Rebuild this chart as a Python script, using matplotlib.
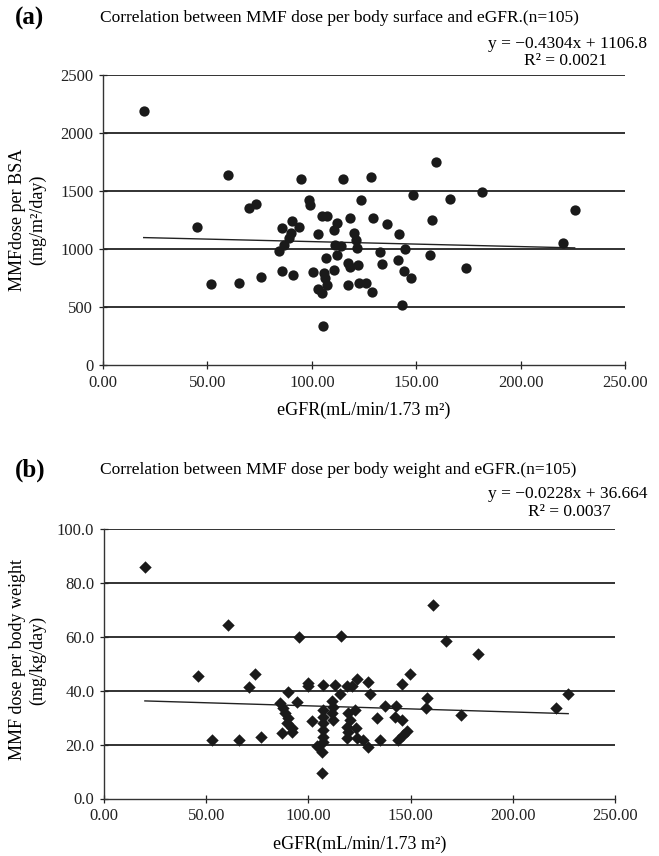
import matplotlib
matplotlib.use("Agg")
import matplotlib.pyplot as plt
import numpy as np

plt.rcParams['font.family'] = ['Liberation Serif', 'DejaVu Serif']

# Panel (a): eGFR vs MMF dose per BSA
egfr_a = [19.5, 45.2, 51.7, 59.8, 65.1, 70.0, 73.2, 75.9,
          84.3, 85.9, 85.9, 86.7, 89.0, 89.8, 90.3, 91.0, 93.8, 94.8,
          98.6, 98.9, 100.5, 103.0, 103.0, 104.9, 104.9, 105.2, 105.7, 106.5, 106.8, 107.3, 107.3,
          110.5, 110.5, 111.3, 112.0, 112.0, 114.1, 114.8, 117.1, 117.1, 118.1, 118.4, 120.0,
          121.1, 121.6, 122.0, 122.4, 123.7, 125.9, 128.2, 128.7, 129.2,
          132.7, 133.8, 136.2, 141.4, 141.8, 143.3, 144.6, 144.3, 147.5, 148.6,
          156.5, 157.8, 159.7, 166.3, 173.7, 181.4, 220.1, 225.9]
dose_bsa = [2190, 1192, 698, 1635, 704, 1351, 1385, 761,
            983, 1184, 810, 1034, 1092, 1135, 1241, 776, 1192, 1600,
            1422, 1379, 799, 1127, 653, 618, 1284, 339, 790, 747, 920, 1284, 690,
            1164, 819, 1034, 1221, 948, 1028, 1600, 877, 690, 1264, 847, 1135,
            1078, 1006, 862, 704, 1425, 704, 1617, 632, 1264,
            977, 871, 1213, 905, 1127, 520, 1000, 810, 747, 1462,
            948, 1250, 1746, 1435, 839, 1488, 1055, 1336]
slope_a, intercept_a, r2_a = -0.4304, 1106.8, 0.0021

# Panel (b): eGFR vs MMF dose per body weight
egfr_b = [20.0, 46.1, 52.6, 60.8, 66.1, 71.0, 73.9, 76.8,
          86.1, 87.7, 88.6, 90.1, 89.4, 91.8, 91.8, 87.0, 90.1, 94.2, 95.6,
          100.0, 100.0, 101.6, 104.1, 106.5, 106.5, 107.3, 107.3, 107.3, 107.3, 107.3, 107.3, 107.3,
          111.4, 112.2, 111.4, 112.2, 113.0, 115.5, 115.9, 118.7, 121.2,
          119.6, 120.4, 118.7, 119.6, 118.7, 122.8, 123.3, 123.7, 124.0, 126.5, 129.0, 129.3, 130.1,
          133.4, 135.0, 137.5, 142.8, 142.3, 145.6, 144.0, 146.4, 148.4, 145.6, 149.7,
          157.9, 157.4, 160.8, 167.1, 174.6, 182.8, 221.1, 227.1]
dose_bw = [85.9, 45.3, 21.7, 64.2, 21.7, 41.3, 46.3, 22.7,
           35.4, 33.5, 31.7, 29.8, 28.0, 26.1, 24.8, 24.2, 39.7, 35.8, 59.9,
           43.0, 41.6, 28.6, 19.5, 17.4, 9.4, 42.2, 32.9, 30.4, 28.0, 25.5, 23.0, 21.1,
           36.0, 34.1, 31.7, 29.2, 42.2, 38.8, 60.4, 41.8, 41.8,
           31.7, 29.2, 26.7, 24.8, 22.4, 32.9, 26.1, 22.4, 44.3, 21.7, 19.0, 43.4, 38.8,
           29.8, 21.7, 34.4, 34.4, 30.4, 29.2, 21.7, 23.6, 25.2, 42.6, 46.3,
           37.2, 33.5, 71.9, 58.6, 31.0, 53.7, 33.5, 38.8]
slope_b, intercept_b, r2_b = -0.0228, 36.664, 0.0037

x_ticks = [0, 50, 100, 150, 200, 250]
ya_ticks = [0, 500, 1000, 1500, 2000, 2500]
yb_ticks = [0, 20, 40, 60, 80, 100]

W, H = 659, 856
fig = plt.figure(figsize=(W / 100, H / 100), dpi=100)
ink = '#1a1a1a'
FS = 12.5


def style(ax, yticks, yfmt):
    ax.set_xlim(0, 250)
    ax.set_ylim(yticks[0], yticks[-1])
    ax.set_xticks(x_ticks)
    ax.set_xticklabels([f"{v:.2f}" for v in x_ticks])
    ax.set_yticks(yticks)
    ax.set_yticklabels([yfmt.format(v) for v in yticks])
    for s in ['top', 'right']:
        ax.spines[s].set_visible(False)
    for s in ['left', 'bottom']:
        ax.spines[s].set_color('#333333')
        ax.spines[s].set_linewidth(1.0)
    ax.tick_params(direction='inout', length=6, width=0.9, labelsize=12,
                   colors='#222222', pad=4)
    for v in yticks[1:]:
        ax.axhline(v, color='#222222', lw=1.3, zorder=1)


# Panel (a)
axa = fig.add_axes([103 / W, 1 - 365 / H, 522 / W, 290 / H])
style(axa, ya_ticks, "{:d}")
axa.scatter(egfr_a, dose_bsa, s=55, marker='o', color=ink, zorder=3, linewidths=0)
xa = np.array([min(egfr_a), max(egfr_a)])
axa.plot(xa, slope_a * xa + intercept_a, color='#222222', lw=1.0, zorder=2)
axa.set_xlabel("eGFR(mL/min/1.73 m²)", fontsize=13, labelpad=8)

# Panel (b)
axb = fig.add_axes([104 / W, 1 - 798.5 / H, 511 / W, 269.5 / H])
style(axb, yb_ticks, "{:.1f}")
axb.scatter(egfr_b, dose_bw, s=40, marker='D', color=ink, zorder=3, linewidths=0)
xb = np.array([min(egfr_b), max(egfr_b)])
axb.plot(xb, slope_b * xb + intercept_b, color='#222222', lw=1.0, zorder=2)
axb.set_xlabel("eGFR(mL/min/1.73 m²)", fontsize=13, labelpad=8)

# Texts panel (a)
fig.text(15 / W, 1 - 18 / H, "(a)", fontsize=18, fontweight='bold', va='center', ha='left')
fig.text(100 / W, 1 - 18 / H, "Correlation between MMF dose per body surface and eGFR.(n=105)",
         fontsize=FS, va='center', ha='left')
fig.text(647 / W, 1 - 44 / H, f"y = −{abs(slope_a):.4f}x + {intercept_a:.1f}",
         fontsize=FS, va='center', ha='right')
fig.text(566 / W, 1 - 61 / H, f"R² = {r2_a:.4f}", fontsize=FS, va='center', ha='center')
fig.text(18 / W, 1 - 220 / H, "MMFdose per BSA", rotation=90, fontsize=13, va='center', ha='center')
fig.text(38 / W, 1 - 220 / H, "(mg/m²/day)", rotation=90, fontsize=13, va='center', ha='center')

# Texts panel (b)
fig.text(15 / W, 1 - 470 / H, "(b)", fontsize=18, fontweight='bold', va='center', ha='left')
fig.text(100 / W, 1 - 470 / H, "Correlation between MMF dose per body weight and eGFR.(n=105)",
         fontsize=FS, va='center', ha='left')
fig.text(647 / W, 1 - 494 / H, f"y = −{abs(slope_b):.4f}x + {intercept_b:.3f}",
         fontsize=FS, va='center', ha='right')
fig.text(569 / W, 1 - 512 / H, f"R² = {r2_b:.4f}", fontsize=FS, va='center', ha='center')
fig.text(18 / W, 1 - 660 / H, "MMF dose per body weight", rotation=90, fontsize=13, va='center', ha='center')
fig.text(38 / W, 1 - 660 / H, "(mg/kg/day)", rotation=90, fontsize=13, va='center', ha='center')

fig.savefig("out.png", dpi=100, facecolor='white')
